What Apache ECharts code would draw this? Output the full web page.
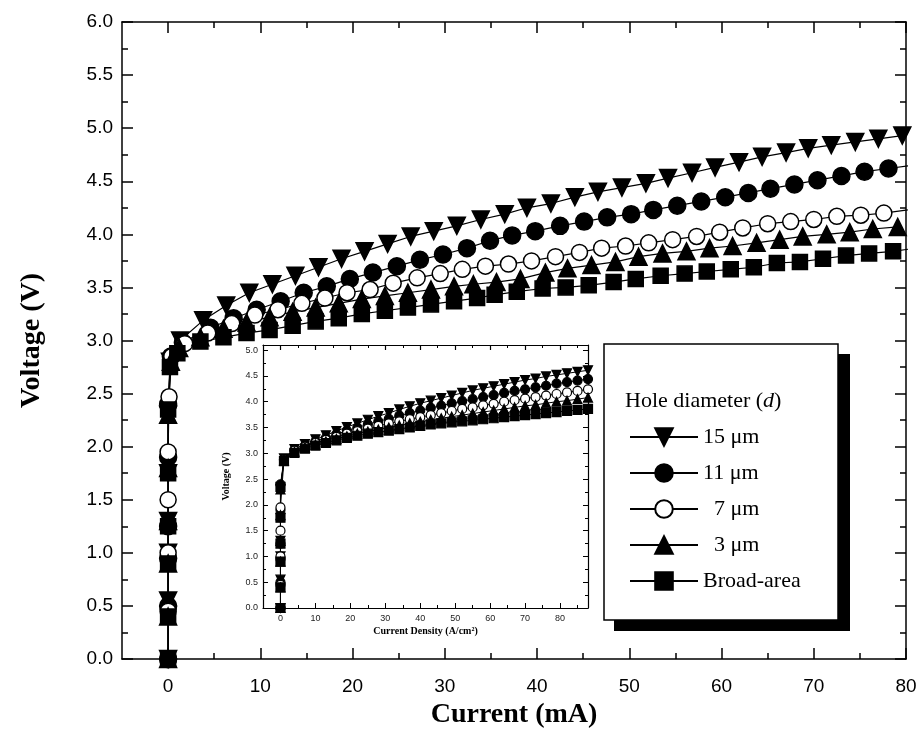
<!DOCTYPE html>
<html>
<head>
<meta charset="utf-8">
<script src="https://cdn.jsdelivr.net/npm/echarts@6/dist/echarts.min.js"></script>
<style>
html, body { margin: 0; padding: 0; background: #fff; }
#main { width: 922px; height: 740px; }
</style>
</head>
<body>
<div id="main"></div>
<script>
var myChart = echarts.init(document.getElementById('main'));

// main plot: [current (mA), voltage (V)]
var d15 = [[0,0],[0,0.55],[0,1.0],[0,1.3],[0,1.75],[0,2.3],[0.2,2.8],[1.3,3.0],[3.8,3.19],[6.3,3.33],[8.8,3.45],[11.3,3.53],[13.8,3.61],[16.3,3.69],[18.8,3.77],[21.3,3.84],[23.8,3.91],[26.3,3.98],[28.8,4.03],[31.3,4.08],[33.9,4.14],[36.5,4.19],[38.9,4.25],[41.5,4.29],[44.1,4.35],[46.6,4.40],[49.2,4.44],[51.8,4.48],[54.2,4.53],[56.8,4.58],[59.3,4.63],[61.9,4.68],[64.4,4.73],[67.0,4.77],[69.4,4.81],[71.9,4.84],[74.5,4.87],[77.0,4.90],[79.6,4.93]];
var d11 = [[0,0],[0,0.5],[0,0.95],[0,1.25],[0,1.9],[0,2.4],[0.3,2.85],[1.6,2.98],[4.6,3.12],[7.1,3.21],[9.6,3.29],[12.2,3.37],[14.7,3.45],[17.2,3.51],[19.7,3.58],[22.2,3.64],[24.8,3.70],[27.3,3.76],[29.8,3.81],[32.4,3.87],[34.9,3.94],[37.3,3.99],[39.8,4.03],[42.5,4.08],[45.1,4.12],[47.6,4.16],[50.2,4.19],[52.6,4.23],[55.2,4.27],[57.8,4.31],[60.4,4.35],[62.9,4.39],[65.3,4.43],[67.9,4.47],[70.4,4.51],[73.0,4.55],[75.5,4.59],[78.1,4.62],[80.6,4.65]];
var d7 = [[0,0],[0,0.45],[0,1.0],[0,1.5],[0,1.95],[0.1,2.47],[0.4,2.85],[1.8,2.97],[4.3,3.07],[6.9,3.16],[9.4,3.24],[11.9,3.29],[14.5,3.35],[17.0,3.40],[19.4,3.45],[21.9,3.48],[24.4,3.54],[27.0,3.59],[29.5,3.63],[31.9,3.67],[34.4,3.70],[36.9,3.72],[39.4,3.75],[42.0,3.79],[44.6,3.83],[47.0,3.87],[49.6,3.89],[52.1,3.92],[54.7,3.95],[57.3,3.98],[59.8,4.02],[62.3,4.06],[65.0,4.10],[67.5,4.12],[70.0,4.14],[72.5,4.17],[75.1,4.18],[77.6,4.20],[80.2,4.23]];
var d3 = [[0,0],[0,0.4],[0,0.9],[0,1.3],[0,1.8],[0,2.3],[0.3,2.8],[1.2,2.93],[3.5,3.03],[6.0,3.11],[8.5,3.17],[11.0,3.22],[13.5,3.27],[16.0,3.31],[18.5,3.35],[21.0,3.39],[23.5,3.42],[26.0,3.45],[28.5,3.48],[31.0,3.51],[33.1,3.53],[35.6,3.55],[38.2,3.58],[40.9,3.64],[43.3,3.68],[45.9,3.71],[48.5,3.74],[51.0,3.79],[53.6,3.82],[56.2,3.84],[58.7,3.87],[61.2,3.89],[63.8,3.92],[66.3,3.95],[68.8,3.98],[71.4,4.00],[73.9,4.02],[76.4,4.05],[79.1,4.07]];
var dBroad = [[0,0],[0,0.4],[0,0.9],[0,1.25],[0,1.75],[0,2.35],[0.2,2.75],[1.0,2.88],[3.5,2.99],[6.0,3.03],[8.5,3.07],[11.0,3.10],[13.5,3.14],[16.0,3.18],[18.5,3.21],[21.0,3.25],[23.5,3.28],[26.0,3.31],[28.5,3.34],[31.0,3.37],[33.5,3.40],[35.4,3.43],[37.8,3.46],[40.6,3.49],[43.1,3.50],[45.6,3.52],[48.3,3.55],[50.7,3.58],[53.4,3.61],[56.0,3.63],[58.4,3.65],[61.0,3.67],[63.5,3.69],[66.0,3.73],[68.5,3.74],[71.0,3.77],[73.5,3.80],[76.0,3.82],[78.6,3.84],[81.1,3.87]];

// inset: current density (A/cm2) and voltages
var insetJ = [1,4,7,10,13,16,19,22,25,28,31,34,37,40,43,46,49,52,55,58,61,64,67,70,73,76,79,82,85,88];
var in15 = [2.90,3.08,3.18,3.27,3.35,3.43,3.51,3.58,3.65,3.72,3.78,3.85,3.91,3.97,4.02,4.07,4.12,4.17,4.22,4.26,4.30,4.34,4.38,4.42,4.45,4.49,4.52,4.55,4.58,4.61];
var in11 = [2.88,3.06,3.15,3.23,3.30,3.37,3.44,3.50,3.56,3.62,3.67,3.73,3.78,3.83,3.88,3.92,3.97,4.01,4.05,4.09,4.13,4.17,4.21,4.24,4.28,4.31,4.35,4.38,4.41,4.44];
var in7 = [2.87,3.05,3.13,3.20,3.26,3.32,3.38,3.43,3.48,3.53,3.58,3.62,3.66,3.70,3.74,3.78,3.82,3.86,3.89,3.93,3.96,4.00,4.03,4.06,4.09,4.12,4.15,4.18,4.21,4.24];
var in3 = [2.86,3.03,3.11,3.17,3.23,3.28,3.33,3.38,3.42,3.46,3.50,3.54,3.58,3.61,3.65,3.68,3.71,3.74,3.77,3.80,3.83,3.86,3.89,3.92,3.94,3.97,4.00,4.02,4.05,4.08];
var inBroad = [2.85,3.01,3.09,3.15,3.20,3.25,3.30,3.34,3.38,3.41,3.44,3.47,3.50,3.53,3.56,3.58,3.60,3.62,3.64,3.66,3.68,3.70,3.72,3.74,3.76,3.78,3.80,3.82,3.84,3.86];

var names = ['15 μm', '11 μm', '7 μm', '3 μm', 'Broad-area'];
var xMajor = [0, 10, 20, 30, 40, 50, 60, 70, 80];
var xMinor = [5, 15, 25, 35, 45, 55, 65, 75];
var xMinorInset = [5, 15, 25, 35, 45, 55, 65, 75, 85];

var black = '#000';
var sans = 'Liberation Sans';
var serif = 'Liberation Serif';

function tickAxis(grid, pos, values, len, width, withLine, min, max) {
    return {
        type: 'value', gridIndex: grid, position: pos, min: min, max: max,
        axisLine: { show: withLine, onZero: false, lineStyle: { color: black, width: width } },
        axisTick: { show: true, inside: true, length: len, customValues: values, lineStyle: { color: black, width: width } },
        axisLabel: { show: false },
        splitLine: { show: false }
    };
}

function insetData(main, vals) {
    return main.filter(function (p) { return p[0] === 0; })
        .concat(insetJ.map(function (j, i) { return [j, vals[i]]; }));
}

var styles = [
    { symbol: 'triangle', rotate: 180, fill: black, size: 17 },
    { symbol: 'circle', rotate: 0, fill: black, size: 17 },
    { symbol: 'circle', rotate: 0, fill: '#fff', size: 16 },
    { symbol: 'triangle', rotate: 0, fill: black, size: 17 },
    { symbol: 'rect', rotate: 0, fill: black, size: 15 }
];
var mainData = [d15, d11, d7, d3, dBroad];
var insetVals = [in15, in11, in7, in3, inBroad];

var series = [];
mainData.forEach(function (d, i) {
    var s = styles[i];
    series.push({
        name: names[i], type: 'line', xAxisIndex: 0, yAxisIndex: 0,
        data: d, symbol: s.symbol, symbolRotate: s.rotate, symbolSize: s.size,
        showAllSymbol: true, clip: true,
        lineStyle: { color: black, width: 1.2 },
        itemStyle: { color: s.fill, borderColor: black, borderWidth: 1.5 },
        emphasis: { disabled: true }
    });
});
insetVals.forEach(function (v, i) {
    var s = styles[i];
    series.push({
        name: 'inset ' + names[i], type: 'line', xAxisIndex: 4, yAxisIndex: 2,
        data: insetData(mainData[i], v), symbol: s.symbol, symbolRotate: s.rotate,
        symbolSize: 9, showAllSymbol: true, clip: true,
        lineStyle: { color: black, width: 1 },
        itemStyle: { color: s.fill, borderColor: black, borderWidth: 1.2 },
        emphasis: { disabled: true }
    });
});

var option = {
    backgroundColor: '#fff',
    animation: false,
    grid: [
        { left: 122, top: 22, right: 16, bottom: 81 },
        { left: 263, top: 345, right: 334, bottom: 132, show: true, backgroundColor: '#fff', borderWidth: 0 }
    ],
    graphic: [
        { type: 'rect', z: 1, shape: { x: 614, y: 354, width: 236, height: 277 }, style: { fill: black } },
        { type: 'rect', z: 2, shape: { x: 604, y: 344, width: 234, height: 276 }, style: { fill: '#fff', stroke: black, lineWidth: 1.5 } },
        {
            type: 'text', z: 3, x: 625, y: 401,
            style: {
                text: '{n|Hole diameter (}{i|d}{n|)}',
                verticalAlign: 'middle',
                rich: {
                    n: { fontFamily: serif, fontSize: 22, fill: black },
                    i: { fontFamily: serif, fontSize: 22, fontStyle: 'italic', fill: black }
                }
            }
        }
    ],
    legend: {
        data: names, orient: 'vertical', left: 624, top: 421,
        itemWidth: 68, itemHeight: 22, itemGap: 14, selectedMode: false,
        formatter: function (name) { return name.length === 4 ? '  ' + name : name; },
        textStyle: { fontFamily: serif, fontSize: 22, color: black }
    },
    xAxis: [
        {
            type: 'value', gridIndex: 0, position: 'bottom', min: -5, max: 80,
            axisLine: { show: true, onZero: false, lineStyle: { color: black, width: 1.5 } },
            axisTick: { show: true, inside: true, length: 11, customValues: xMajor, lineStyle: { color: black, width: 1.5 } },
            axisLabel: { customValues: xMajor, fontFamily: sans, fontSize: 19, color: black, margin: 18 },
            splitLine: { show: false },
            name: 'Current (mA)', nameLocation: 'middle', nameGap: 40,
            nameTextStyle: { fontFamily: serif, fontWeight: 'bold', fontSize: 28, color: black }
        },
        tickAxis(0, 'bottom', xMinor, 6, 1.5, false, -5, 80),
        tickAxis(0, 'top', xMajor, 11, 1.5, true, -5, 80),
        tickAxis(0, 'top', xMinor, 6, 1.5, false, -5, 80),
        {
            type: 'value', gridIndex: 1, position: 'bottom', min: -5, max: 88,
            axisLine: { show: true, onZero: false, lineStyle: { color: black, width: 1.2 } },
            axisTick: { show: true, inside: true, length: 5, customValues: xMajor, lineStyle: { color: black, width: 1 } },
            axisLabel: { customValues: xMajor, fontFamily: sans, fontSize: 9, color: '#222', margin: 6 },
            splitLine: { show: false },
            name: 'Current Density (A/cm²)', nameLocation: 'middle', nameGap: 18,
            nameTextStyle: { fontFamily: serif, fontWeight: 'bold', fontSize: 10, color: black }
        },
        tickAxis(1, 'bottom', xMinorInset, 3, 1, false, -5, 88),
        tickAxis(1, 'top', xMajor, 5, 1.2, true, -5, 88),
        tickAxis(1, 'top', xMinorInset, 3, 1, false, -5, 88)
    ],
    yAxis: [
        {
            type: 'value', gridIndex: 0, position: 'left', min: 0, max: 6, interval: 0.5,
            axisLine: { show: true, onZero: false, lineStyle: { color: black, width: 1.5 } },
            axisTick: { show: true, inside: true, length: 11, lineStyle: { color: black, width: 1.5 } },
            minorTick: { show: true, splitNumber: 2, length: 6, lineStyle: { color: black, width: 1.5 } },
            axisLabel: { formatter: function (v) { return v.toFixed(1); }, fontFamily: sans, fontSize: 19, color: black, margin: 9 },
            splitLine: { show: false },
            name: 'Voltage (V)', nameLocation: 'middle', nameGap: 76,
            nameTextStyle: { fontFamily: serif, fontWeight: 'bold', fontSize: 28, color: black }
        },
        {
            type: 'value', gridIndex: 0, position: 'right', min: 0, max: 6, interval: 0.5,
            axisLine: { show: true, onZero: false, lineStyle: { color: black, width: 1.5 } },
            axisTick: { show: true, inside: true, length: 11, lineStyle: { color: black, width: 1.5 } },
            minorTick: { show: true, splitNumber: 2, length: 6, lineStyle: { color: black, width: 1.5 } },
            axisLabel: { show: false },
            splitLine: { show: false }
        },
        {
            type: 'value', gridIndex: 1, position: 'left', min: 0, max: 5.1, interval: 0.5,
            axisLine: { show: true, onZero: false, lineStyle: { color: black, width: 1.2 } },
            axisTick: { show: true, inside: true, length: 5, lineStyle: { color: black, width: 1 } },
            minorTick: { show: true, splitNumber: 2, length: 3, lineStyle: { color: black, width: 1 } },
            axisLabel: {
                formatter: function (v) { return v > 5.01 ? '' : v.toFixed(1); },
                fontFamily: sans, fontSize: 9, color: '#222', margin: 5
            },
            splitLine: { show: false },
            name: 'Voltage (V)', nameLocation: 'middle', nameGap: 32,
            nameTextStyle: { fontFamily: serif, fontWeight: 'bold', fontSize: 10, color: black }
        },
        {
            type: 'value', gridIndex: 1, position: 'right', min: 0, max: 5.1, interval: 0.5,
            axisLine: { show: true, onZero: false, lineStyle: { color: black, width: 1.2 } },
            axisTick: { show: true, inside: true, length: 5, lineStyle: { color: black, width: 1 } },
            minorTick: { show: true, splitNumber: 2, length: 3, lineStyle: { color: black, width: 1 } },
            axisLabel: { show: false },
            splitLine: { show: false }
        }
    ],
    series: series
};

myChart.setOption(option);
</script>
</body>
</html>
